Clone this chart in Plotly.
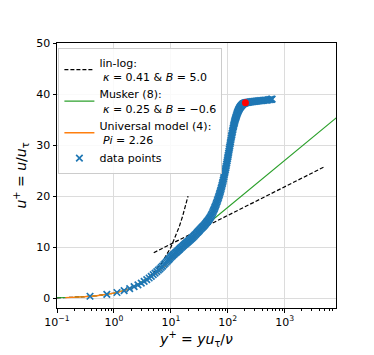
import plotly.graph_objects as go

# ---------------- data ----------------
# lin-log reference: viscous sublayer u+ = y+ and log law (kappa=0.41, B=5.0)
linlog_visc_yp = [0.1, 0.2, 0.5, 1, 2, 3, 5, 7, 10, 12, 14, 16, 18, 20]
linlog_visc_up = [0.1, 0.2, 0.5, 1, 2, 3, 5, 7, 10, 12, 14, 16, 18, 20]
linlog_log_yp = [5, 5000]
linlog_log_up = [8.93, 25.77]

# Musker (8) profile
musker_yp = [0.1, 0.14, 0.2, 0.5, 1, 2, 5, 10, 20, 40, 100, 1000, 8000]
musker_up = [0.1, 0.14, 0.2, 0.5, 1, 1.95, 4.6, 7.9, 11.3, 14.16, 17.8, 27.0, 35.35]

# Universal model (4)
univ_yp = [0.14, 0.2, 0.3, 0.5, 0.7, 1, 1.5, 2, 3, 4, 5, 6, 7, 8, 10, 12, 15, 20, 25, 30,
           40, 50, 60, 70, 80, 90, 100, 115, 130, 145, 160, 175, 190, 205, 230, 300, 400, 600]
univ_up = [0.14, 0.2, 0.3, 0.5, 0.7, 1.0, 1.5, 1.95, 2.9, 3.75, 4.5, 5.2, 5.85, 6.4, 7.4, 8.2,
           9.2, 10.5, 11.5, 12.4, 14.0, 15.7, 17.6, 19.7, 22.0, 24.4, 26.9, 30.6, 33.6, 35.7,
           37.0, 37.7, 38.1, 38.3, 38.4, 38.6, 38.75, 39.0]

# measured data points
data_yp = [0.38, 0.75, 1.13, 1.51, 1.89, 2.26, 2.64, 3.02, 3.39, 3.77, 4.15, 4.52, 4.90,
           5.28, 5.66, 6.03, 6.41, 6.79, 7.16, 7.54, 7.92, 8.29, 8.67, 9.05, 9.42, 9.80,
           10.2, 10.6, 11.0, 11.45, 11.9, 12.35, 12.8, 13.3, 13.8, 14.25, 14.7, 15.25, 15.8,
           16.35, 16.9, 17.5, 18.1, 18.65, 19.2, 19.8, 20.4, 21.15, 21.9, 22.65, 23.4, 24.2,
           25.0, 25.9, 26.8, 27.75, 28.7, 29.6, 30.5, 31.45, 32.4, 33.55, 34.7, 35.85, 37.0,
           38.1, 39.2, 40.35, 41.5, 42.65, 43.8, 45.0, 46.2, 47.45, 48.7,
           50.0, 51.3, 52.6, 53.9, 55.2, 56.5, 57.8, 59.2, 60.5, 61.9, 63.2, 64.5, 65.8, 67.1,
           68.4, 69.8, 71.1, 72.4, 73.7, 75.1, 76.4, 77.7, 79.0, 80.4, 81.7, 83.0, 84.3, 85.6,
           86.9, 88.3, 89.6, 91.0, 92.3, 93.6, 94.9, 96.3, 97.6, 99.0, 100.3, 101.7, 103.1,
           104.5, 105.9, 107.3, 108.7, 110.2, 111.6, 113.1, 114.6, 116.1, 117.6, 119.1, 120.7,
           122.3, 123.9, 125.5, 127.1, 128.8, 130.5, 132.2, 134.0, 135.8, 137.6, 139.5, 141.4,
           143.4, 145.4, 147.5, 149.7, 151.9, 154.2, 156.6, 159.1, 161.7, 164.4, 167.2, 170.1,
           173.2, 176.4, 179.8, 183.3, 187.0, 191.0, 195.0, 199.4, 204.0, 210, 216, 223, 230,
           238, 247, 256, 266, 276, 288, 300, 313, 327, 342, 358, 375, 393, 413, 434, 458,
           483, 510, 540, 570, 585, 600]
data_up = [0.4, 0.76, 1.14, 1.52, 1.9, 2.27, 2.62, 2.97, 3.32, 3.66, 3.98, 4.3, 4.62,
           4.93, 5.22, 5.5, 5.78, 6.05, 6.32, 6.58, 6.82, 7.06, 7.3, 7.52, 7.74, 7.96,
           8.15, 8.32, 8.5, 8.67, 8.85, 9.0, 9.15, 9.32, 9.5, 9.65, 9.8, 9.95, 10.1,
           10.25, 10.4, 10.55, 10.7, 10.82, 10.95, 11.07, 11.2, 11.35, 11.5, 11.65, 11.8, 11.95,
           12.1, 12.27, 12.45, 12.62, 12.8, 12.95, 13.1, 13.27, 13.45, 13.62, 13.8, 13.95, 14.1,
           14.25, 14.4, 14.58, 14.75, 14.9, 15.05, 15.22, 15.4, 15.6, 15.8,
           16.0, 16.25, 16.5, 16.75, 17.0, 17.25, 17.52, 17.8, 18.07, 18.35, 18.62, 18.9, 19.17,
           19.45, 19.72, 20.0, 20.3, 20.6, 20.9, 21.2, 21.5, 21.8, 22.12, 22.45, 22.77, 23.1,
           23.45, 23.8, 24.15, 24.5, 24.85, 25.2, 25.55, 25.9, 26.25, 26.6, 26.97, 27.35, 27.7,
           28.05, 28.42, 28.8, 29.17, 29.55, 29.92, 30.3, 30.65, 31.0, 31.35, 31.7, 32.02,
           32.35, 32.67, 33.0, 33.3, 33.6, 33.87, 34.15, 34.4, 34.65, 34.87, 35.1, 35.32, 35.55,
           35.75, 35.95, 36.15, 36.35, 36.52, 36.7, 36.85, 37.0, 37.15, 37.3, 37.42, 37.55,
           37.65, 37.75, 37.85, 37.95, 38.03, 38.1, 38.15, 38.2, 38.25, 38.3, 38.32, 38.35,
           38.37, 38.4, 38.42, 38.45, 38.47, 38.5, 38.52, 38.55, 38.57, 38.6, 38.62, 38.65,
           38.67, 38.7, 38.72, 38.75, 38.77, 38.8, 38.82, 38.85, 38.9, 38.95, 38.97, 39.0]

# highlighted point
red_yp = [204.0]
red_up = [38.3]

x_tick_vals = [0.1, 1, 10, 100, 1000]
x_tick_text = ["10<sup>\u22121</sup>", "10<sup>0</sup>", "10<sup>1</sup>",
               "10<sup>2</sup>", "10<sup>3</sup>"]
y_tick_vals = [0, 10, 20, 30, 40, 50]

FONT = "DejaVu Sans"

fig = go.Figure()

fig.add_trace(go.Scatter(
    x=linlog_visc_yp + [None] + linlog_log_yp,
    y=linlog_visc_up + [None] + linlog_log_up,
    mode="lines", line=dict(color="black", width=1.2, dash="4px,2px"),
    name="lin-log:<br> <i>\u03ba</i> = 0.41 &amp; <i>B</i> = 5.0",
    connectgaps=False))

fig.add_trace(go.Scatter(
    x=musker_yp, y=musker_up, mode="lines",
    line=dict(color="#2ca02c", width=1.1),
    name="Musker (8):<br> <i>\u03ba</i> = 0.25 &amp; <i>B</i> = \u22120.6"))

fig.add_trace(go.Scatter(
    x=univ_yp, y=univ_up, mode="lines",
    line=dict(color="#ff7f0e", width=1.3),
    name="Universal model (4):<br> <i>Pi</i> = 2.26"))

fig.add_trace(go.Scatter(
    x=data_yp, y=data_up, mode="markers",
    marker=dict(symbol="x-thin", size=6.5, color="#1f77b4",
                line=dict(color="#1f77b4", width=1.7)),
    name="data points"))

fig.add_trace(go.Scatter(
    x=red_yp, y=red_up, mode="markers",
    marker=dict(symbol="circle", size=7, color="red"),
    showlegend=False))

# the page body adds an 8 px offset; the figure is sized so the plot area
# lands at the same pixels as in the reference
fig.update_layout(
    width=366, height=347,
    margin=dict(l=39, r=38, t=35, b=40),
    plot_bgcolor="white", paper_bgcolor="white",
    font=dict(family=FONT, size=11, color="black"),
    legend=dict(x=0.005, y=0.982, xanchor="left", yanchor="top",
                bgcolor="rgba(255,255,255,0.85)", bordercolor="#cccccc", borderwidth=1,
                font=dict(family=FONT, size=11, color="black"),
                itemwidth=30, tracegroupgap=0),
)

fig.update_xaxes(
    type="log", range=[-1, 3.9],
    tickvals=x_tick_vals, ticktext=x_tick_text,
    ticks="outside", ticklen=3.5, tickcolor="black", tickwidth=1,
    showline=True, linecolor="black", linewidth=1, mirror=True,
    showgrid=True, gridcolor="#dcdcdc", gridwidth=1,
    zeroline=False,
    minor=dict(dtick="D1", ticks="outside", ticklen=2, tickcolor="black", showgrid=False),
    tickfont=dict(family=FONT, size=11, color="black"),
    title=dict(text="<i>y</i><sup>+</sup> = <i>yu</i><sub>\u03c4</sub>/<i>\u03bd</i>",
               font=dict(family=FONT, size=14, color="black"), standoff=4),
)

fig.update_yaxes(
    range=[-1.9, 50],
    tickvals=y_tick_vals,
    ticks="outside", ticklen=3.5, tickcolor="black", tickwidth=1,
    showline=True, linecolor="black", linewidth=1, mirror=True,
    showgrid=True, gridcolor="#dcdcdc", gridwidth=1,
    zeroline=False,
    tickfont=dict(family=FONT, size=11, color="black"),
    title=dict(text="<i>u</i><sup>+</sup> = <i>u</i>/<i>u</i><sub>\u03c4</sub>",
               font=dict(family=FONT, size=14, color="black"), standoff=6),
)

fig.write_html("out.html")
